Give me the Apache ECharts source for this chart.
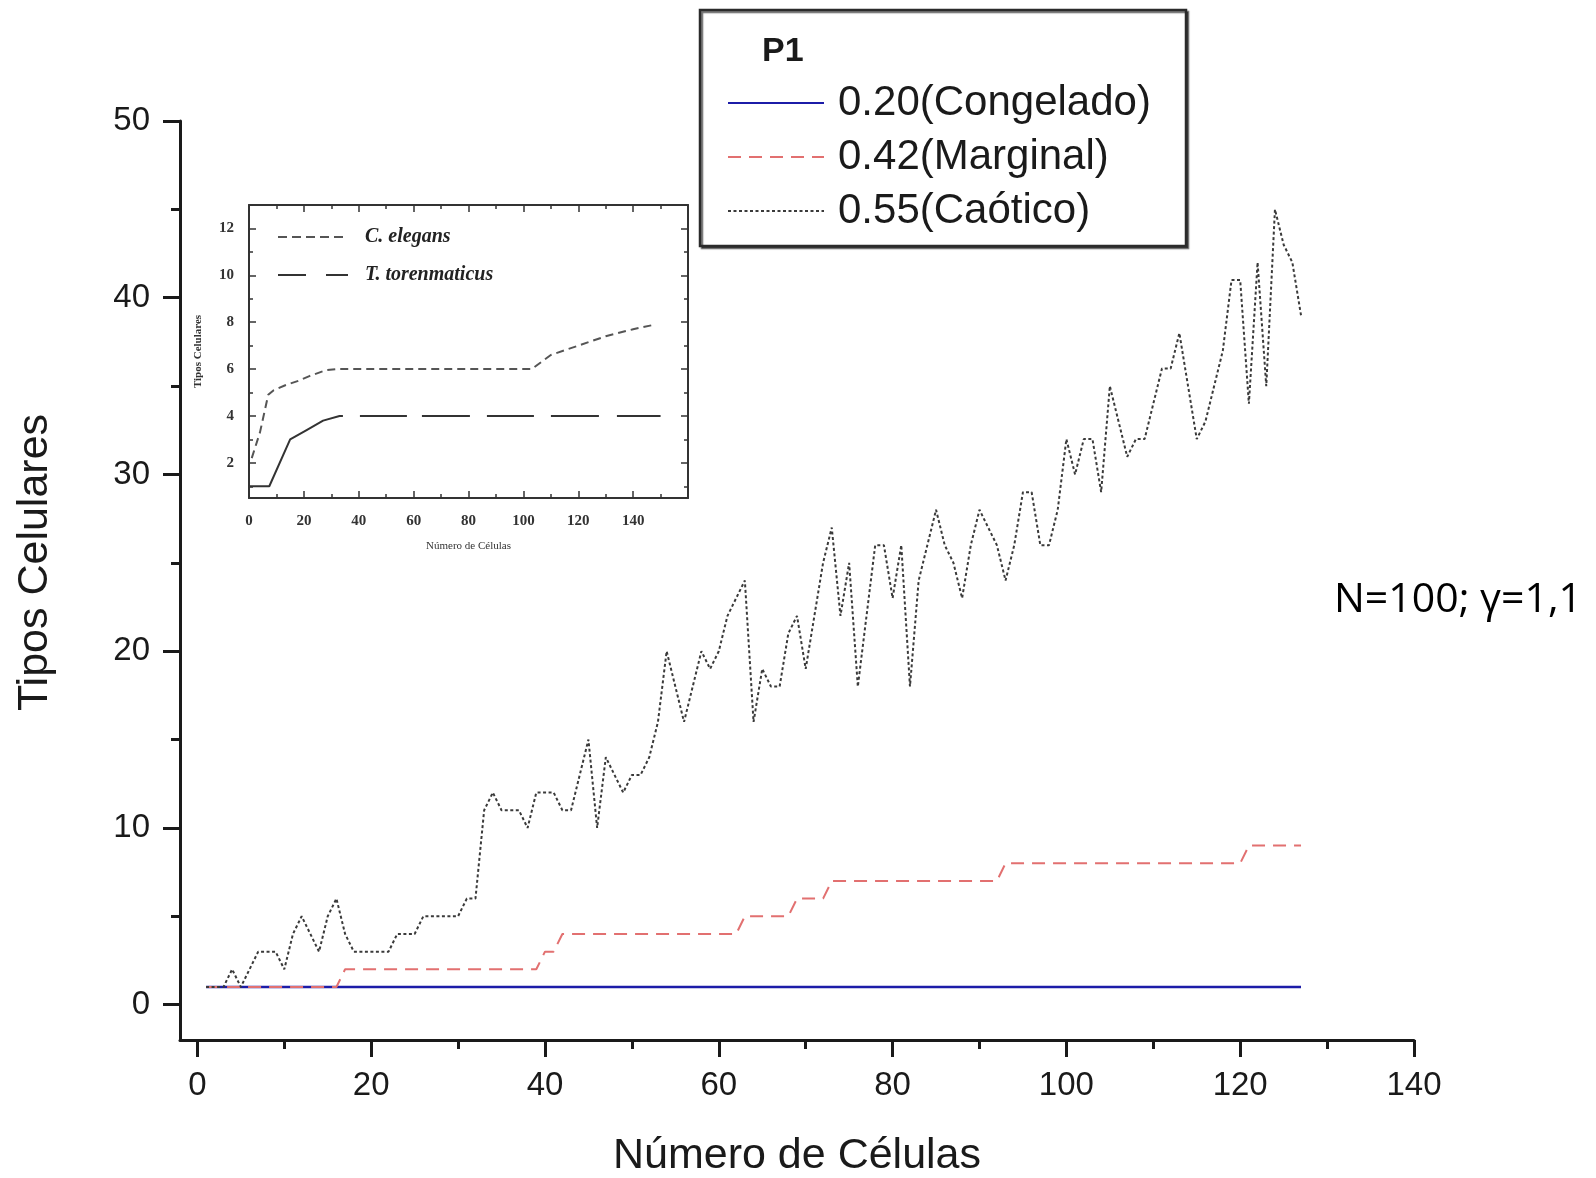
<!DOCTYPE html>
<html>
<head>
<meta charset="UTF-8">
<title>Tipos Celulares</title>
<script src="https://cdn.jsdelivr.net/npm/echarts@6/dist/echarts.min.js"></script>
<style>
    html, body { margin: 0; padding: 0; background: #fff; }
    #main { width: 1596px; height: 1178px; }
</style>
</head>
<body>
<div id="main"></div>
<script type="text/javascript">
// numero de celulas (eje x) de las tres corridas P1
var celulas = [
    1, 2, 3, 4, 5, 6, 7, 8, 9, 10, 11, 12, 13, 14, 15, 16, 17, 18, 19, 20,
    21, 22, 23, 24, 25, 26, 27, 28, 29, 30, 31, 32, 33, 34, 35, 36, 37, 38, 39, 40,
    41, 42, 43, 44, 45, 46, 47, 48, 49, 50, 51, 52, 53, 54, 55, 56, 57, 58, 59, 60,
    61, 62, 63, 64, 65, 66, 67, 68, 69, 70, 71, 72, 73, 74, 75, 76, 77, 78, 79, 80,
    81, 82, 83, 84, 85, 86, 87, 88, 89, 90, 91, 92, 93, 94, 95, 96, 97, 98, 99, 100,
    101, 102, 103, 104, 105, 106, 107, 108, 109, 110, 111, 112, 113, 114, 115, 116, 117, 118, 119, 120,
    121, 122, 123, 124, 125, 126, 127
];
var congelado = [
    1, 1, 1, 1, 1, 1, 1, 1, 1, 1, 1, 1, 1, 1, 1, 1, 1, 1, 1, 1,
    1, 1, 1, 1, 1, 1, 1, 1, 1, 1, 1, 1, 1, 1, 1, 1, 1, 1, 1, 1,
    1, 1, 1, 1, 1, 1, 1, 1, 1, 1, 1, 1, 1, 1, 1, 1, 1, 1, 1, 1,
    1, 1, 1, 1, 1, 1, 1, 1, 1, 1, 1, 1, 1, 1, 1, 1, 1, 1, 1, 1,
    1, 1, 1, 1, 1, 1, 1, 1, 1, 1, 1, 1, 1, 1, 1, 1, 1, 1, 1, 1,
    1, 1, 1, 1, 1, 1, 1, 1, 1, 1, 1, 1, 1, 1, 1, 1, 1, 1, 1, 1,
    1, 1, 1, 1, 1, 1, 1
];
var marginal = [
    1, 1, 1, 1, 1, 1, 1, 1, 1, 1,
    1, 1, 1, 1, 1, 1, 2, 2, 2, 2,
    2, 2, 2, 2, 2, 2, 2, 2, 2, 2,
    2, 2, 2, 2, 2, 2, 2, 2, 2, 3,
    3, 4, 4, 4, 4, 4, 4, 4, 4, 4,
    4, 4, 4, 4, 4, 4, 4, 4, 4, 4,
    4, 4, 5, 5, 5, 5, 5, 5, 6, 6,
    6, 6, 7, 7, 7, 7, 7, 7, 7, 7,
    7, 7, 7, 7, 7, 7, 7, 7, 7, 7,
    7, 7, 8, 8, 8, 8, 8, 8, 8, 8,
    8, 8, 8, 8, 8, 8, 8, 8, 8, 8,
    8, 8, 8, 8, 8, 8, 8, 8, 8, 8,
    9, 9, 9, 9, 9, 9, 9
];
var caotico = [
    1, 1, 1, 2, 1, 2, 3, 3, 3, 2,
    4, 5, 4, 3, 5, 6, 4, 3, 3, 3,
    3, 3, 4, 4, 4, 5, 5, 5, 5, 5,
    6, 6, 11, 12, 11, 11, 11, 10, 12, 12,
    12, 11, 11, 13, 15, 10, 14, 13, 12, 13,
    13, 14, 16, 20, 18, 16, 18, 20, 19, 20,
    22, 23, 24, 16, 19, 18, 18, 21, 22, 19,
    22, 25, 27, 22, 25, 18, 22, 26, 26, 23,
    26, 18, 24, 26, 28, 26, 25, 23, 26, 28,
    27, 26, 24, 26, 29, 29, 26, 26, 28, 32,
    30, 32, 32, 29, 35, 33, 31, 32, 32, 34,
    36, 36, 38, 35, 32, 33, 35, 37, 41, 41,
    34, 42, 35, 45, 43, 42, 39
];
var xTicks = [0, 20, 40, 60, 80, 100, 120, 140];
var xMinor = [10, 30, 50, 70, 90, 110, 130];
var yTicks = [0, 10, 20, 30, 40, 50];
var yMinor = [5, 15, 25, 35, 45];

// grafico pequeño (C. elegans / T. torenmaticus)
var elegansX = [1, 4, 7, 9, 13, 18, 22, 28, 32, 103, 110, 120, 130, 140, 148];
var elegansY = [2.2, 3.3, 4.9, 5.1, 5.3, 5.5, 5.7, 5.95, 6, 6, 6.6, 7.0, 7.4, 7.7, 7.9];
var torenX = [0, 7.4, 15, 21, 27, 33, 150];
var torenY = [1, 1, 3, 3.4, 3.8, 4, 4];
var inXTicks = [0, 20, 40, 60, 80, 100, 120, 140];
var inXMinor = [10, 30, 50, 70, 90, 110, 130, 150];
var inYTicks = [2, 4, 6, 8, 10, 12];
var inYMinor = [1, 3, 5, 7, 9, 11, 13];

function pairs(xs, ys) {
    var out = [];
    for (var i = 0; i < xs.length; i++) out.push([xs[i], ys[i]]);
    return out;
}

var ink = '#1a1a1a';
var sans = '"Liberation Sans", Arial, sans-serif';
var serif = '"Liberation Serif", "Times New Roman", serif';
var noDot = {color: 'rgba(0,0,0,0)', borderColor: 'rgba(0,0,0,0)', borderWidth: 0};

// one axis that only draws a set of ticks; extra props merged in
function axis(grid, pos, min, max, ticks, len, width, inside, color, more) {
    var a = {
        type: 'value', gridIndex: grid, position: pos, min: min, max: max,
        splitLine: {show: false},
        axisLine: {show: false, onZero: false},
        axisTick: {show: true, inside: inside, customValues: ticks, length: len,
            lineStyle: {color: color, width: width}},
        axisLabel: {show: false}
    };
    if (more) for (var k in more) a[k] = more[k];
    return a;
}

var mainLine = {show: true, onZero: false, lineStyle: {color: ink, width: 3}};
var inLine = {show: true, onZero: false, lineStyle: {color: '#333', width: 2}};

var myChart = echarts.init(document.getElementById('main'));
myChart.setOption({
    animation: false,
    backgroundColor: '#fff',
    grid: [
        {left: 180, right: 182, top: 121, bottom: 138, containLabel: false, outerBoundsMode: 'none'},
        {left: 249, right: 908, top: 205, bottom: 680, containLabel: false, outerBoundsMode: 'none',
            show: true, backgroundColor: '#fff', borderWidth: 0}
    ],
    xAxis: [
        axis(0, 'bottom', -2, 140, xTicks, 17, 3, false, ink, {
            axisLine: mainLine,
            axisLabel: {show: true, customValues: xTicks, margin: 29, fontSize: 33,
                fontFamily: sans, color: ink},
            name: 'Número de Células', nameLocation: 'middle', nameGap: 95,
            nameTextStyle: {fontSize: 43, fontFamily: sans, color: ink}
        }),
        axis(0, 'bottom', -2, 140, xMinor, 9, 3, false, ink),
        axis(1, 'bottom', 0, 160, inXTicks, 7, 1.5, true, '#333', {
            axisLine: inLine,
            axisLabel: {show: true, customValues: inXTicks, margin: 16, fontSize: 15,
                fontWeight: 'bold', fontFamily: serif, color: '#333'},
            name: 'Número de Células', nameLocation: 'middle', nameGap: 43,
            nameTextStyle: {fontSize: 11, fontFamily: serif, color: '#333'}
        }),
        axis(1, 'bottom', 0, 160, inXMinor, 4, 1.5, true, '#333'),
        axis(1, 'top', 0, 160, inXTicks, 7, 1.5, true, '#333', {axisLine: inLine}),
        axis(1, 'top', 0, 160, inXMinor, 4, 1.5, true, '#333')
    ],
    yAxis: [
        axis(0, 'left', -2, 50, yTicks, 17, 3, false, ink, {
            axisLine: mainLine,
            axisLabel: {show: true, customValues: yTicks, margin: 30, fontSize: 33,
                fontFamily: sans, color: ink},
            name: 'Tipos Celulares', nameLocation: 'middle', nameGap: 123,
            nameTextStyle: {fontSize: 43, fontFamily: sans, color: ink, padding: [0, 0, 0, 36]}
        }),
        axis(0, 'left', -2, 50, yMinor, 9, 3, false, ink),
        axis(1, 'left', 0.5, 13, inYTicks, 7, 1.5, true, '#333', {
            axisLine: inLine,
            axisLabel: {show: true, customValues: inYTicks, margin: 15, fontSize: 15,
                fontWeight: 'bold', fontFamily: serif, color: '#333'},
            name: 'Tipos Celulares', nameLocation: 'middle', nameGap: 45,
            nameTextStyle: {fontSize: 11, fontWeight: 'bold', fontFamily: serif, color: '#333'}
        }),
        axis(1, 'left', 0.5, 13, inYMinor, 4, 1.5, true, '#333'),
        axis(1, 'right', 0.5, 13, inYTicks, 7, 1.5, true, '#333', {axisLine: inLine}),
        axis(1, 'right', 0.5, 13, inYMinor, 4, 1.5, true, '#333')
    ],
    legend: [
        {
            data: ['0.20(Congelado)', '0.42(Marginal)', '0.55(Caótico)'],
            orient: 'vertical', left: 727, top: 79, padding: 0,
            itemWidth: 96, itemHeight: 20, itemGap: 6,
            itemStyle: noDot,
            textStyle: {fontSize: 42, lineHeight: 48, fontFamily: sans, color: ink, padding: [0, 0, 0, 9]},
            selectedMode: false
        },
        {
            data: [
                {name: 'C. elegans', lineStyle: {type: [9, 5]}},
                {name: 'T. torenmaticus', lineStyle: {type: [28, 20]}}
            ],
            orient: 'vertical', left: 277, top: 225, padding: 0,
            itemWidth: 70, itemHeight: 14, itemGap: 14,
            itemStyle: noDot,
            textStyle: {fontSize: 20, lineHeight: 24, fontStyle: 'italic', fontWeight: 'bold',
                fontFamily: serif, color: '#222', padding: [0, 0, 0, 12]},
            selectedMode: false
        }
    ],
    graphic: [
        {
            type: 'rect', z: 1,
            shape: {x: 700, y: 10, width: 486, height: 236},
            style: {fill: '#fff', stroke: '#2b2b2b', lineWidth: 2.5,
                shadowColor: 'rgba(0,0,0,0.55)', shadowOffsetX: 2, shadowOffsetY: 2, shadowBlur: 1}
        },
        {
            type: 'text', z: 5, x: 762, y: 52,
            style: {text: 'P1', font: 'bold 34px "Liberation Sans", Arial, sans-serif', fill: ink,
                verticalAlign: 'middle', textVerticalAlign: 'middle'}
        },
        {
            type: 'text', z: 5, x: 1334, y: 600,
            style: {text: 'N=100; γ=1,1', font: '41px "Open Sans", sans-serif', fill: '#000',
                verticalAlign: 'middle', textVerticalAlign: 'middle'}
        }
    ],
    series: [
        {
            name: '0.20(Congelado)', type: 'line', xAxisIndex: 0, yAxisIndex: 0,
            data: pairs(celulas, congelado), symbol: 'none', showSymbol: false,
            lineStyle: {color: '#1c1ca8', width: 2.5}, itemStyle: {color: '#1c1ca8'}
        },
        {
            name: '0.42(Marginal)', type: 'line', xAxisIndex: 0, yAxisIndex: 0,
            data: pairs(celulas, marginal), symbol: 'none', showSymbol: false,
            lineStyle: {color: '#e27070', width: 2, type: [13, 8]}, itemStyle: {color: '#e27070'}
        },
        {
            name: '0.55(Caótico)', type: 'line', xAxisIndex: 0, yAxisIndex: 0,
            data: pairs(celulas, caotico), symbol: 'none', showSymbol: false,
            lineStyle: {color: '#3a3a3a', width: 2, type: [3, 2.5]}, itemStyle: {color: '#3a3a3a'}
        },
        {
            name: 'C. elegans', type: 'line', xAxisIndex: 2, yAxisIndex: 2,
            data: pairs(elegansX, elegansY), symbol: 'none', showSymbol: false,
            lineStyle: {color: '#555', width: 2, type: [8, 5]}, itemStyle: {color: '#555'}
        },
        {
            name: 'T. torenmaticus', type: 'line', xAxisIndex: 2, yAxisIndex: 2,
            data: pairs(torenX, torenY), symbol: 'none', showSymbol: false,
            lineStyle: {color: '#333', width: 2, type: [130, 17, 47, 15, 48, 17, 47, 17, 48, 18, 47, 60]},
            itemStyle: {color: '#333'}
        }
    ]
});
</script>
</body>
</html>
